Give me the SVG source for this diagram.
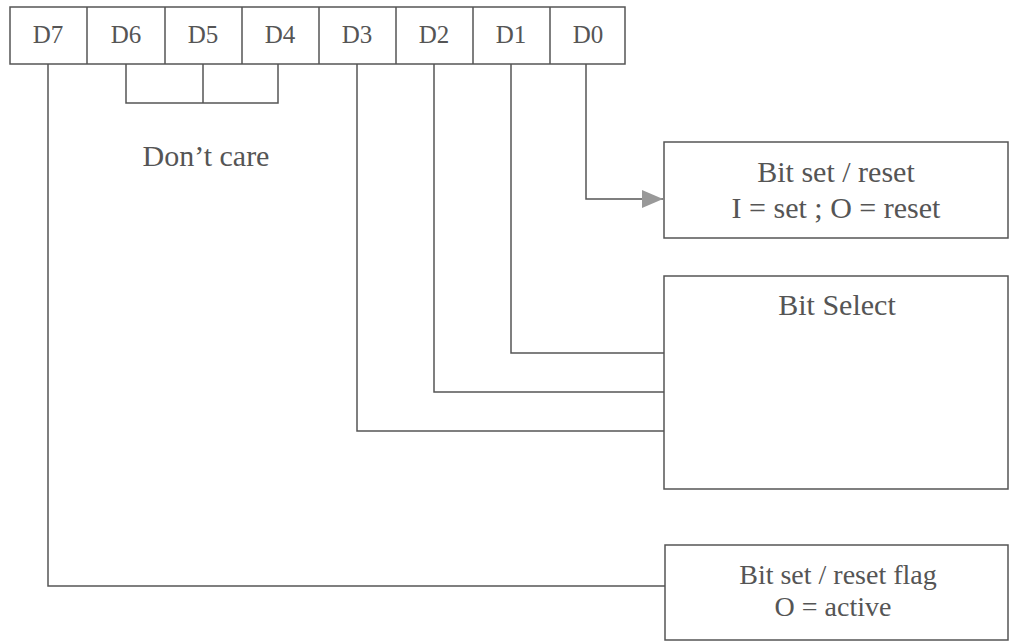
<svg xmlns="http://www.w3.org/2000/svg" width="1010" height="643" viewBox="0 0 1010 643">
<defs>
<style>
.box{fill:#fff;stroke:#555;stroke-width:1.5}
.ln{fill:none;stroke:#555;stroke-width:1.5}
.t{font-family:"Liberation Serif","Times New Roman",serif;fill:#555;text-anchor:middle}
.d{font-size:25px}
.b{font-size:30px}
.f{font-size:28px}
</style>
<marker id="arr" viewBox="0 0 21 18" refX="21" refY="9" markerWidth="21" markerHeight="18" markerUnits="userSpaceOnUse" orient="auto">
<path d="M0,0 L21,9 L0,18 Z" fill="#999"/>
</marker>
</defs>
<rect width="1010" height="643" fill="#fff"/>
<g id="register">
<rect class="box" x="10" y="7" width="615" height="57"/>
<path class="ln" d="M87,7V64M165,7V64M242,7V64M319,7V64M396,7V64M473,7V64M550,7V64"/>
<text class="t d" x="48" y="43">D7</text>
<text class="t d" x="126" y="43">D6</text>
<text class="t d" x="203" y="43">D5</text>
<text class="t d" x="280" y="43">D4</text>
<text class="t d" x="357" y="43">D3</text>
<text class="t d" x="434" y="43">D2</text>
<text class="t d" x="511" y="43">D1</text>
<text class="t d" x="588" y="43">D0</text>
</g>
<g id="dontcare">
<text class="t b" x="206" y="166">Don’t care</text>
</g>
<g id="bitsetreset">
<rect class="box" x="664" y="142" width="344" height="96"/>
<text class="t b" x="836" y="182">Bit set / reset</text>
<text class="t b" x="836" y="218">I = set ; O = reset</text>
</g>
<g id="bitselect">
<rect class="box" x="664" y="276" width="344" height="213"/>
<text class="t b" x="837" y="315">Bit Select</text>
</g>
<g id="flag">
<rect class="box" x="665" y="545" width="343" height="95"/>
<text class="t f" x="838" y="584">Bit set / reset flag</text>
<text class="t f" x="833" y="616">O = active</text>
</g>
<g id="connectors">
<path class="ln" d="M126,64V103H278V64M203,64V103"/>
<path class="ln" d="M586,64V199H663" marker-end="url(#arr)"/>
<path class="ln" d="M511,64V353H664"/>
<path class="ln" d="M434,64V392H664"/>
<path class="ln" d="M357,64V431H664"/>
<path class="ln" d="M48,64V586H665"/>
</g>
</svg>
